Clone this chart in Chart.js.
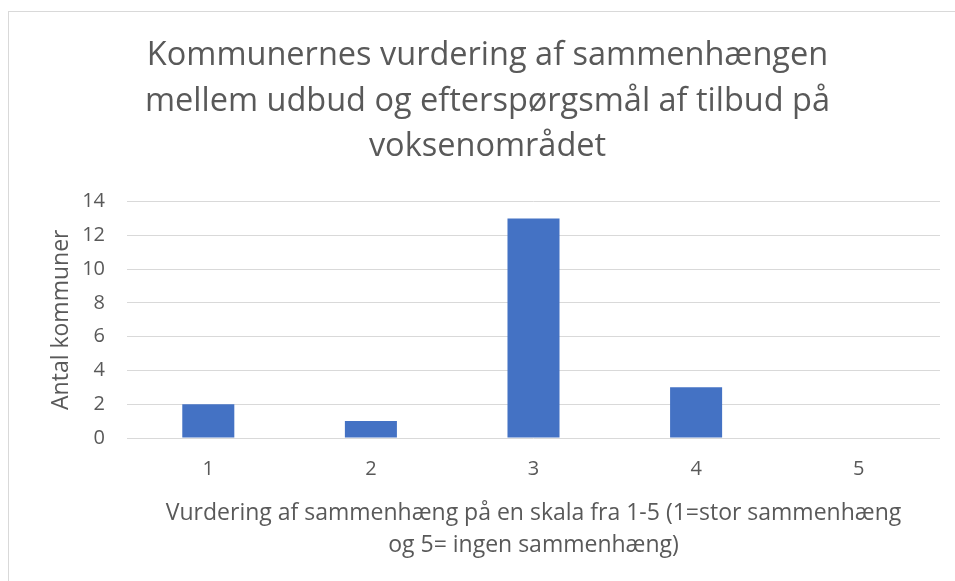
<!DOCTYPE html>
<html>
<head>
<meta charset="utf-8">
<script src="https://cdn.jsdelivr.net/npm/chart.js@4"></script>
<style>
  html, body { margin: 0; padding: 0; background: #fff; overflow: hidden; }
  #frame { position: absolute; left: 8px; top: 11px; width: 1000px; height: 1000px; border: 1px solid #d9d9d9; box-sizing: border-box; }
  #wrap { position: absolute; left: 0; top: 0; width: 955px; height: 581px; }
</style>
</head>
<body>
<div id="frame"></div>
<div id="wrap"><canvas id="chart" width="955" height="581"></canvas></div>
<script>
// data
const categories = ['1', '2', '3', '4', '5'];
const antalKommuner = [2, 1, 13, 3, 0];
const yTicks = [0, 2, 4, 6, 8, 10, 12, 14];

const titleLines = [
    'Kommunernes vurdering af sammenhængen',
    'mellem udbud og efterspørgsmål af tilbud på',
    'voksenområdet'
];
const xTitleLines = [
    'Vurdering af sammenhæng på en skala fra 1-5 (1=stor sammenhæng',
    'og 5= ingen sammenhæng)'
];
const yTitle = 'Antal kommuner';

const grey = '#595959';
const fontFamily = '"Open Sans", sans-serif';

const ctx = document.getElementById('chart').getContext('2d');
new Chart(ctx, {
    type: 'bar',
    data: {
        labels: categories,
        datasets: [{
            label: yTitle,
            data: antalKommuner,
            backgroundColor: '#4472C4',
            borderWidth: 0,
            barPercentage: 0.32,
            categoryPercentage: 1
        }]
    },
    options: {
        responsive: false,
        animation: false,
        layout: { padding: { left: 35, right: 15, top: 0, bottom: 3 } },
        plugins: {
            legend: { display: false },
            tooltip: { enabled: false },
            title: {
                display: true,
                text: titleLines,
                color: grey,
                font: { family: fontFamily, size: 32.5, weight: 'normal', lineHeight: 1.4 },
                padding: { top: 33, bottom: 32 }
            }
        },
        scales: {
            x: {
                grid: { display: false },
                border: { display: false },
                ticks: { color: grey, padding: 11, font: { family: fontFamily, size: 20 } },
                title: {
                    display: true,
                    text: xTitleLines,
                    color: grey,
                    font: { family: fontFamily, size: 23, lineHeight: 1.4 },
                    padding: { top: 0, bottom: 16 }
                },
                afterFit: scale => { scale.height = 140; }
            },
            y: {
                min: 0,
                max: 14,
                afterBuildTicks: scale => { scale.ticks = yTicks.map(v => ({ value: v })); },
                grid: { color: '#d9d9d9', drawTicks: false },
                border: { display: false },
                ticks: { color: grey, padding: 22, font: { family: fontFamily, size: 20 } },
                title: {
                    display: true,
                    text: yTitle,
                    color: grey,
                    font: { family: fontFamily, size: 23, lineHeight: 1.2 },
                    padding: { top: 13, bottom: 0 }
                },
                afterFit: scale => { scale.width = 92; }
            }
        }
    }
});
</script>
</body>
</html>
